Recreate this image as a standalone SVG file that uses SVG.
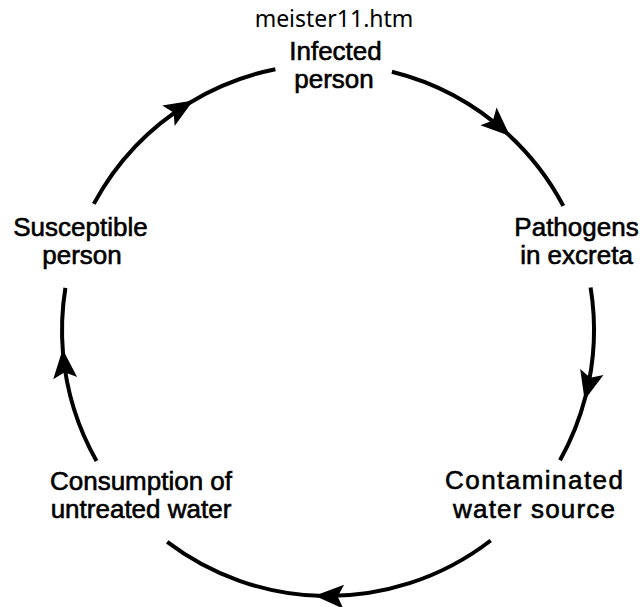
<svg xmlns="http://www.w3.org/2000/svg" width="642" height="607" viewBox="0 0 642 607">
  <style>
    .lbl { font-family: "Liberation Sans", Arial, sans-serif; font-size: 26px; fill: #000; stroke: #000; stroke-width: 0.6; text-anchor: middle; }
    .title { font-family: "Noto Sans", "Open Sans", sans-serif; font-size: 23px; fill: #000; text-anchor: middle; }
    .arc { fill: none; stroke: #000; stroke-width: 4; marker-mid: url(#arrow); }
  </style>
  <defs>
    <marker id="arrow" viewBox="-28 -14 34 28" markerWidth="34" markerHeight="28" refX="0" refY="0" markerUnits="userSpaceOnUse" orient="auto">
      <path d="M4,0 L-25,-12 L-19,0 L-25,12 Z" fill="#000"/>
    </marker>
  </defs>
  <rect width="642" height="607" fill="#fff"/>
  <text class="title" x="334" y="27">meister11.htm</text>

  <g id="connectors">
    <path class="arc" d="M93.8,203.9 A266,266 0 0 1 189.8,102.7 A266,266 0 0 1 275.4,69.2"/>
    <path class="arc" d="M391.9,71.8 A266,266 0 0 1 507.0,133.3 A266,266 0 0 1 563.3,205.9"/>
    <path class="arc" d="M590.6,287.5 A266,266 0 0 1 585.6,396.2 A266,266 0 0 1 560.0,460.2"/>
    <path class="arc" d="M490.7,540.5 A266,266 0 0 1 318.7,595.8 A266,266 0 0 1 167.2,541.9"/>
    <path class="arc" d="M96.5,461.0 A266,266 0 0 1 63.0,353.2 A266,266 0 0 1 65.4,287.9"/>
  </g>

  <g id="infected">
    <text class="lbl" x="335.5" y="60">Infected</text>
    <text class="lbl" x="334" y="88">person</text>
  </g>
  <g id="pathogens">
    <text class="lbl" x="576.5" y="236">Pathogens</text>
    <text class="lbl" x="576.5" y="264">in excreta</text>
  </g>
  <g id="contaminated">
    <text class="lbl" x="534" y="489" textLength="178" lengthAdjust="spacing">Contaminated</text>
    <text class="lbl" x="534" y="518" textLength="162" lengthAdjust="spacing">water source</text>
  </g>
  <g id="consumption">
    <text class="lbl" x="141" y="490">Consumption of</text>
    <text class="lbl" x="141" y="518">untreated water</text>
  </g>
  <g id="susceptible">
    <text class="lbl" x="80.5" y="236">Susceptible</text>
    <text class="lbl" x="82" y="264">person</text>
  </g>
</svg>
